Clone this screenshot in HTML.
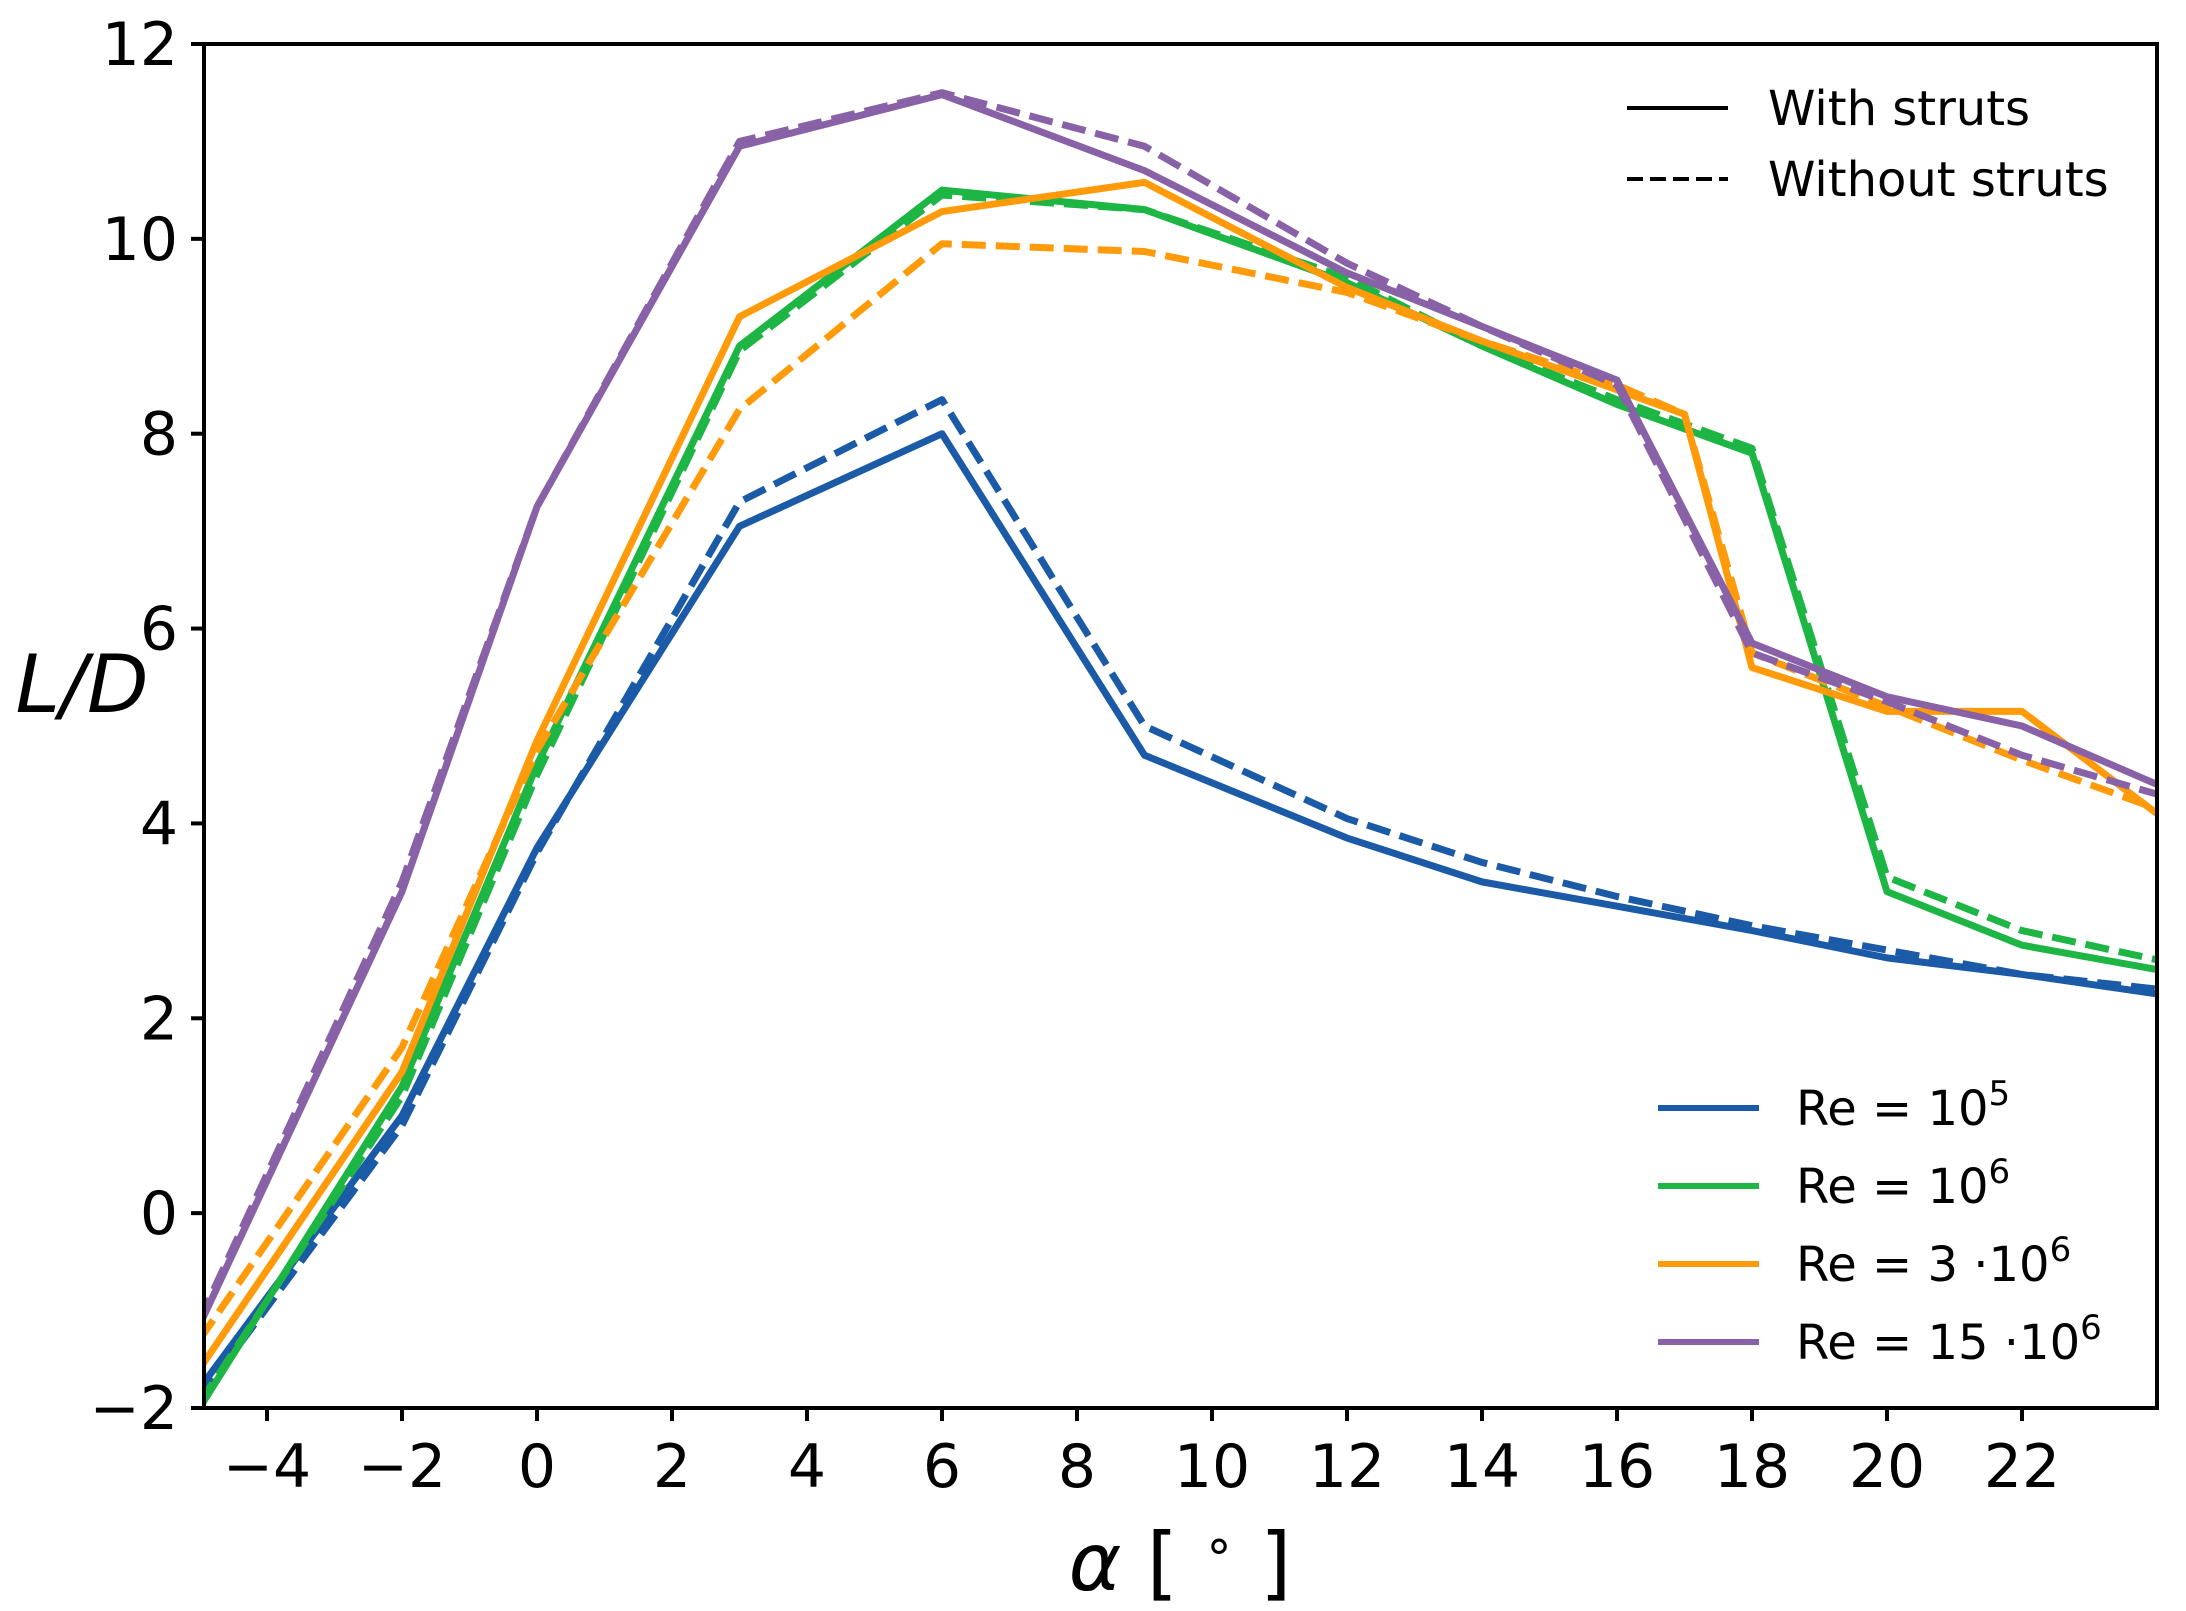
<!DOCTYPE html>
<html><head><meta charset="utf-8"><style>
html,body{margin:0;padding:0;background:#fff}
svg{display:block;font-family:"DejaVu Sans","Liberation Sans",sans-serif}
</style></head><body>
<svg id="chart" width="2186" height="1611" viewBox="0 0 2186 1611" xmlns="http://www.w3.org/2000/svg">
<defs><clipPath id="plotclip"><rect x="204" y="44" width="1953" height="1364"/></clipPath></defs>
<g id="grid"></g>
<g id="series" clip-path="url(#plotclip)"></g>
<rect x="204" y="44" width="1953" height="1364" fill="none" stroke="#000" stroke-width="4"/>
<text x="82" y="712" font-size="80" font-style="italic" text-anchor="middle">L/D</text>
<text x="1180" y="1590" font-size="80" text-anchor="middle"><tspan font-style="italic">α</tspan> [ <tspan font-size="50" dy="-28">∘</tspan><tspan dy="28"> ]</tspan></text>
<g>
<line x1="1627" y1="108" x2="1728" y2="108" stroke="#000" stroke-width="4"/>
<text x="1768" y="125" font-size="48">With struts</text>
<line x1="1627" y1="179" x2="1728" y2="179" stroke="#000" stroke-width="4" stroke-dasharray="16,7"/>
<text x="1768" y="196" font-size="48">Without struts</text>
</g>
<g id="relegend"></g>
</svg>
<script>
const xTicks=[-4,-2,0,2,4,6,8,10,12,14,16,18,20,22];
const yTicks=[-2,0,2,4,6,8,10,12];
const alpha=[-5,-2,0,3,6,9,12,14,16,18,20,22,24];
const alphaOr=[-5,-2,0,3,6,9,12,14,16,17,18,20,22,24];
const blueSolid=[-1.8,1.0,3.75,7.05,8.0,4.7,3.85,3.4,3.15,2.9,2.62,2.45,2.25];
const blueDash=[-1.9,0.9,3.7,7.3,8.35,5.0,4.05,3.6,3.25,2.95,2.7,2.45,2.3];
const greenSolid=[-2.0,1.3,4.6,8.9,10.5,10.3,9.55,8.9,8.3,7.8,3.3,2.75,2.5];
const greenDash=[-1.95,1.2,4.5,8.85,10.45,10.3,9.6,8.9,8.35,7.85,3.45,2.9,2.6];
const orangeSolid=[-1.6,1.45,4.85,9.2,10.28,10.58,9.5,8.95,8.45,8.2,5.6,5.15,5.15,4.1];
const orangeDash=[-1.3,1.7,4.75,8.25,9.95,9.87,9.45,8.95,8.5,8.2,5.75,5.2,4.65,4.15];
const purpleSolid=[-1.15,3.3,7.25,10.95,11.48,10.7,9.65,9.1,8.55,5.85,5.3,5.0,4.4];
const purpleDash=[-1.1,3.4,7.25,11.0,11.5,10.95,9.75,9.1,8.5,5.75,5.25,4.7,4.3];
const reLabels=["10","10","3 ·10","15 ·10"];
const reExp=["5","6","6","6"];

const NS="http://www.w3.org/2000/svg";
const X=a=>537+a*67.5;
const Y=v=>1408-(v+2)*97.43;
function mk(tag,attrs,parent){const e=document.createElementNS(NS,tag);for(const k in attrs)e.setAttribute(k,attrs[k]);parent.appendChild(e);return e;}
const g=document.getElementById('grid');
xTicks.forEach(t=>{
  const l=mk('line',{x1:X(t),x2:X(t),y1:1408,y2:1421,stroke:'#000','stroke-width':4},g);
  
  
  const tx=mk('text',{x:X(t),y:1487,'font-size':60,'text-anchor':'middle'},g);
  
  
  tx.textContent=t<0?'\u2212'+(-t):String(t);
});
yTicks.forEach(t=>{
  const l=mk('line',{x1:191,x2:204,y1:Y(t),y2:Y(t),stroke:'#000','stroke-width':4},g);
  
  
  const tx=mk('text',{x:178,y:Y(t)+21,'font-size':60,'text-anchor':'end'},g);
  
  
  tx.textContent=t<0?'\u2212'+(-t):String(t);
});
const sg=document.getElementById('series');
const series=[
 ['blue-with-struts',alpha,blueSolid,'#1a5aa6',false],
 ['blue-without-struts',alpha,blueDash,'#1a5aa6',true],
 ['green-with-struts',alpha,greenSolid,'#1db544',false],
 ['green-without-struts',alpha,greenDash,'#1db544',true],
 ['orange-with-struts',alphaOr,orangeSolid,'#ff9a0a',false],
 ['orange-without-struts',alphaOr,orangeDash,'#ff9a0a',true],
 ['purple-with-struts',alpha,purpleSolid,'#8861a6',false],
 ['purple-without-struts',alpha,purpleDash,'#8861a6',true]
];
series.forEach(s=>{
  const pts=s[1].map((a,i)=>X(a)+','+Y(s[2][i])).join(' ');
  const p=mk('polyline',{points:pts,fill:'none',stroke:s[3],'stroke-width':7,'stroke-linejoin':'round'},sg);
  if(s[4])p.setAttribute('stroke-dasharray','24,10');
  
  
});
const rl=document.getElementById('relegend');
const cols=['#1a5aa6','#1db544','#ff9a0a','#8861a6'];
const ly=[1108,1186,1264,1342];
reLabels.forEach((lab,i)=>{
  const l=mk('line',{x1:1658,x2:1759,y1:ly[i],y2:ly[i],stroke:cols[i],'stroke-width':6},rl);
  
  
  const t=mk('text',{x:1796,y:ly[i]+17,'font-size':48},rl);
  
  
  t.appendChild(document.createTextNode('Re = '+lab));
  const sp=mk('tspan',{dy:-20,'font-size':34},t);
  sp.textContent=reExp[i];
});
</script>
</body></html>
